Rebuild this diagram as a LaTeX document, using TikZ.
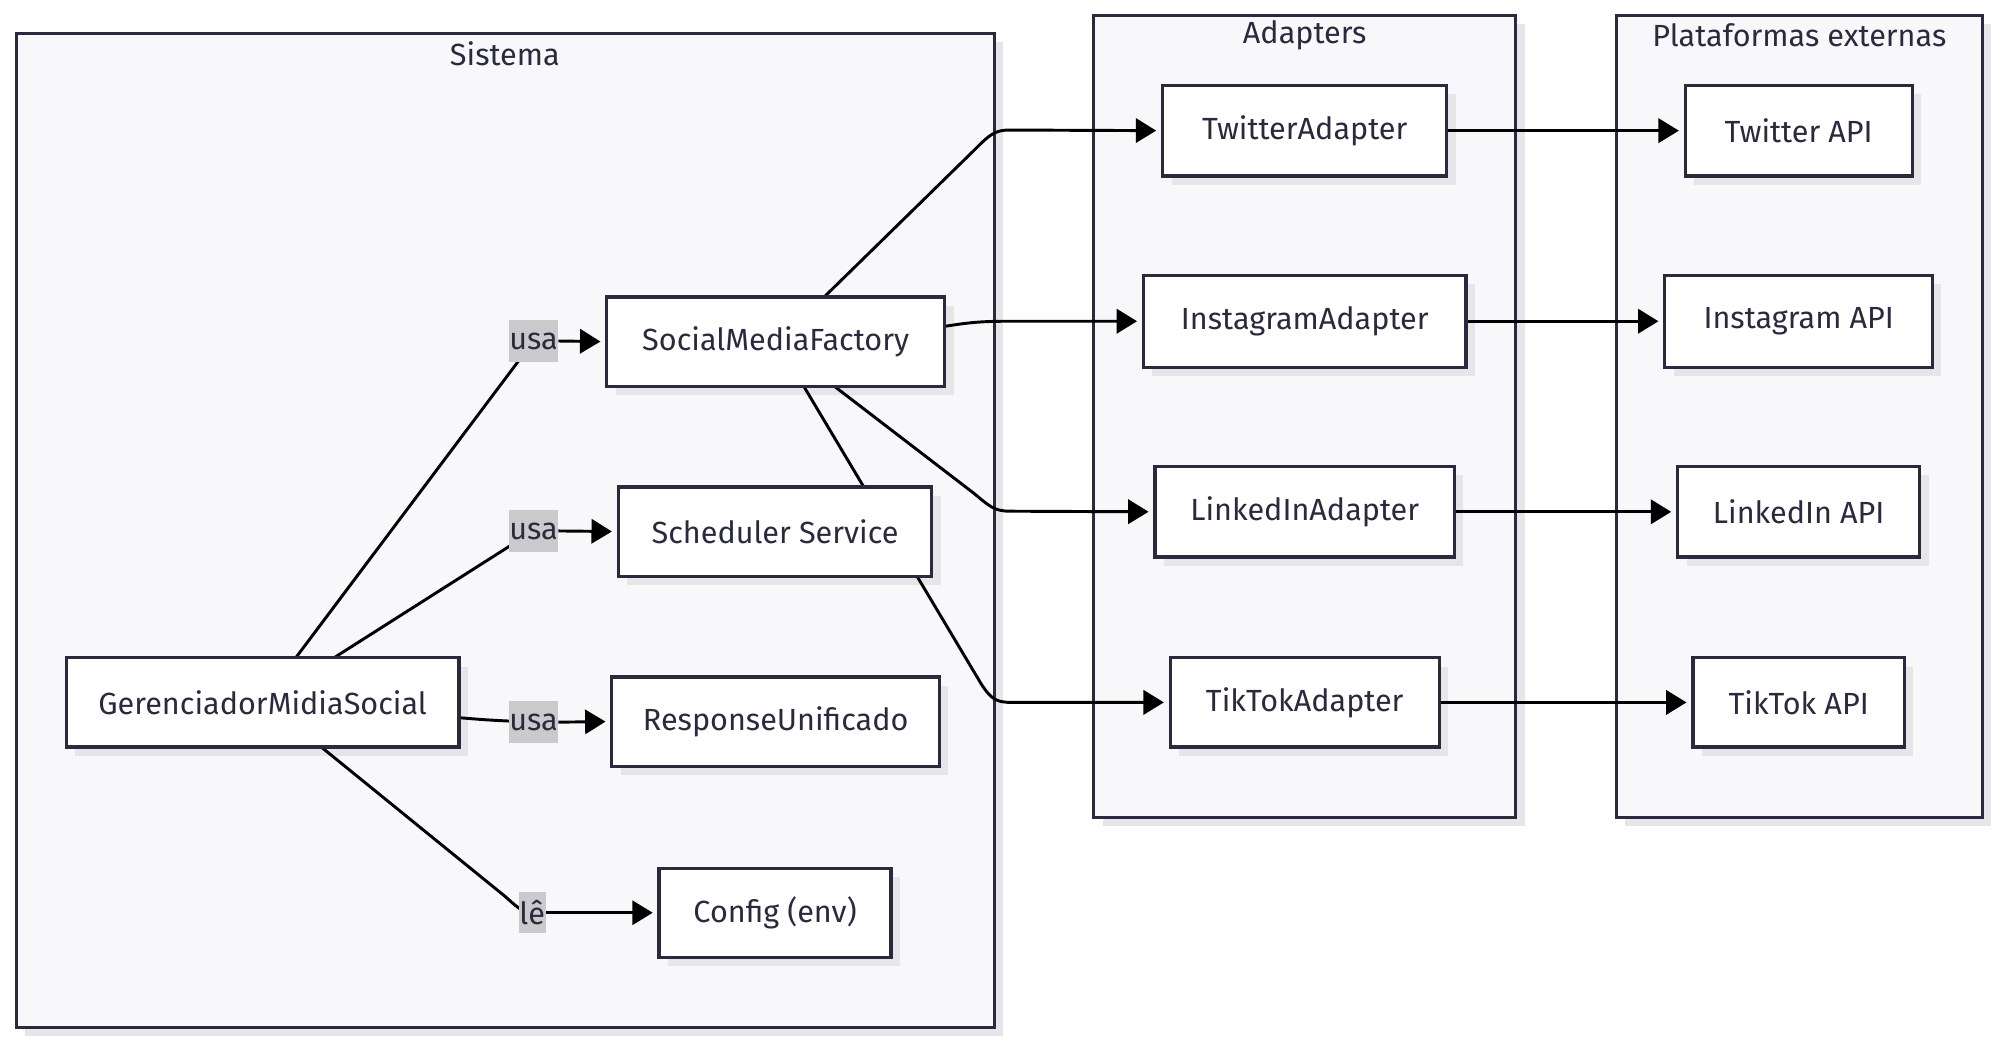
\documentclass[tikz,border=0pt]{standalone}
\usepackage{fontspec}
\setmainfont{Fira Sans}
\usetikzlibrary{arrows.meta,shadows}
\definecolor{ink}{HTML}{2A2A3E}
\definecolor{clfill}{HTML}{F8F8FA}
\definecolor{shad}{HTML}{E6E6EA}
\definecolor{lblgray}{HTML}{CACACC}
\pgfdeclarelayer{bg}
\pgfdeclarelayer{shadowlayer}
\pgfdeclarelayer{edges}
\pgfsetlayers{bg,shadowlayer,edges,main}
\begin{document}
\begin{tikzpicture}[x=1pt,y=-1pt,
  txt/.style={text=ink,font=\fontsize{24}{28}\selectfont},
  box/.style={txt,draw=ink,line width=2.5pt,fill=white,inner sep=0pt,outer sep=0pt,minimum height=70pt},
  cluster/.style={draw=ink,line width=2.5pt,fill=clfill,inner sep=0pt,outer sep=0pt,
    general shadow={fill=shad,shadow xshift=7pt,shadow yshift=-7pt}},
  lbl/.style={txt,fill=lblgray,inner sep=0pt,outer sep=0pt,minimum height=33pt},
  edge/.style={draw=black,line width=2.3pt,line join=round},
  arr/.style={edge,-{Triangle[length=16pt,width=19pt]},shorten >=5pt}
]
\useasboundingbox (0,0) rectangle (1565,817.4);
% clusters
\begin{pgfonlayer}{bg}
\node[cluster,minimum width=767pt,minimum height=780pt] (sis) at (396.5,416) {};
\node[cluster,minimum width=331pt,minimum height=629pt] (adp) at (1023.5,326.5) {};
\node[cluster,minimum width=287pt,minimum height=629pt] (plt) at (1411.5,326.5) {};
\end{pgfonlayer}
\node[txt] (tsis) at (396,42) {Sistema};
\node[txt] (tadp) at (1023.5,28) {Adapters};
\node[txt] (tplt) at (1411.5,28) {Plataformas externas};
% nodes
\node[box,minimum width=308pt] (g) at (206,551) {GerenciadorMidiaSocial};
\node[box,minimum width=265pt] (smf) at (608.5,268) {SocialMediaFactory};
\node[box,minimum width=246pt] (sch) at (608,417) {Scheduler Service};
\node[box,minimum width=257pt] (ru) at (608.5,566) {ResponseUnificado};
\node[box,minimum width=182pt] (cfg) at (608,716) {Config (env)};
\node[box,minimum width=223pt,minimum height=71pt] (ta) at (1023.5,102.5) {TwitterAdapter};
\node[box,minimum width=253pt,minimum height=72pt] (ia) at (1023.5,252) {InstagramAdapter};
\node[box,minimum width=235pt,minimum height=71pt] (la) at (1023.5,401.5) {LinkedInAdapter};
\node[box,minimum width=211pt] (tk) at (1023.5,551) {TikTokAdapter};
\node[box,minimum width=178pt,minimum height=71pt] (tapi) at (1411,102.5) {Twitter API};
\node[box,minimum width=210pt,minimum height=72pt] (iapi) at (1411,252) {Instagram API};
\node[box,minimum width=190pt,minimum height=71pt] (lapi) at (1411,401.5) {LinkedIn API};
\node[box,minimum width=166pt] (tkapi) at (1411,551) {TikTok API};
% node shadows
\begin{pgfonlayer}{shadowlayer}
\foreach \n in {g,smf,sch,ru,cfg,ta,ia,la,tk,tapi,iapi,lapi,tkapi}
  \fill[shad] ([shift={(7pt,-7pt)}]\n.south west) rectangle ([shift={(7pt,-7pt)}]\n.north east);
\end{pgfonlayer}
% edge labels
\node[lbl,minimum width=39pt] (l1) at (418.5,267.5) {usa};
\node[lbl,minimum width=39pt] (l2) at (418.5,416.5) {usa};
\node[lbl,minimum width=39pt] (l3) at (418.5,566.5) {usa};
\node[lbl,minimum width=21pt,minimum height=32pt] (l4) at (417.5,716) {lê};
% edges
\begin{pgfonlayer}{edges}
\draw[edge] ([xshift=26pt]g.north) -- (l1.center);
\draw[arr] (l1.east) -- (smf.west);
\draw[edge] ([xshift=56pt]g.north) -- (l2.center);
\draw[arr] (l2.east) -- (sch.west);
\draw[edge] ([yshift=-12pt]g.east) .. controls (385,565) .. (l3.center);
\draw[arr] (l3.east) -- (ru.west);
\draw[edge] ([xshift=46pt]g.south) -- (396,703) .. controls (405,711) and (410,716) .. (l4.center);
\draw[arr] (l4.east) -- (cfg.west);
\draw[arr] ([xshift=38pt]smf.north) -- (764,118) .. controls (776,106) and (780,102) .. (792,102) -- (ta.west);
\draw[arr] ([yshift=12pt]smf.east) .. controls (760,253) and (770,252) .. (790,252) -- (ia.west);
\draw[arr] ([xshift=46pt]smf.south) -- (764,387) .. controls (776,397) and (780,401) .. (792,401) -- (la.west);
\draw[arr] ([xshift=22pt]smf.south) -- (770,537) .. controls (778,549) and (782,551) .. (794,551) -- (tk.west);
\draw[arr] (ta.east) -- (tapi.west);
\draw[arr] (ia.east) -- (iapi.west);
\draw[arr] (la.east) -- (lapi.west);
\draw[arr] (tk.east) -- (tkapi.west);
\end{pgfonlayer}
\end{tikzpicture}
\end{document}
